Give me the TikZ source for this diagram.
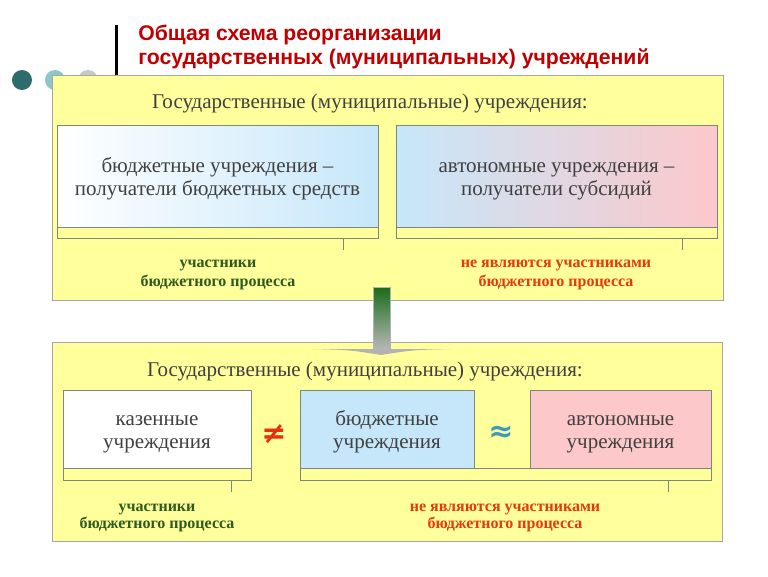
\documentclass[tikz,border=0pt]{standalone}
\usepackage{fontspec}
\setmainfont{Liberation Serif}
\newfontfamily\titlefont{Liberation Sans}
\newfontfamily\signfont{DejaVu Sans}
\usepackage{xcolor}
\usetikzlibrary{shadings}

\definecolor{panelyellow}{HTML}{FFFF9C}
\definecolor{titlered}{HTML}{C00000}
\definecolor{boxblue}{HTML}{C6E7FA}
\definecolor{boxpink}{HTML}{FCC8CA}
\definecolor{edgegray}{HTML}{7C887C}
\definecolor{procgreen}{HTML}{2F5A1E}
\definecolor{procred}{HTML}{E8380D}
\definecolor{dotteal}{HTML}{2E6B6B}
\definecolor{dotlight}{HTML}{8EC6C8}
\definecolor{dotgray}{HTML}{C8CACA}
\definecolor{textgray}{HTML}{404040}
\definecolor{arrowgreen}{HTML}{1A6B1A}
\definecolor{neqred}{HTML}{E83010}
\definecolor{approxblue}{HTML}{3A9AC0}

\newcommand{\topstrut}{\rule{0pt}{22pt}}

\begin{document}
\begin{tikzpicture}[x=1pt,y=-1pt,semithick]
        \tikzstyle{panel}=[
            rectangle,
            draw=gray!70,
            fill=panelyellow,
            inner sep=0pt
        ]
        \tikzstyle{orgbox}=[
            rectangle,
            draw=edgegray,
            inner sep=0pt,
            align=center,
            text=textgray,
            font=\fontsize{21}{23}\selectfont
        ]
        \tikzstyle{strip}=[
            rectangle,
            draw=edgegray,
            fill=panelyellow,
            inner sep=0pt,
            minimum height=11pt
        ]
        \tikzstyle{header}=[
            text=textgray,
            font=\fontsize{21}{24}\selectfont
        ]
        \tikzstyle{proclabel}=[
            align=center,
            font=\bfseries\fontsize{16}{19}\selectfont
        ]
        \tikzstyle{tick}=[draw=edgegray, thin]

        \useasboundingbox (0,0) rectangle (768,576);
        \fill[white] (0,0) rectangle (768,576);

        % title and decoration
        \fill[dotteal] (22,80) circle (10);
        \fill[dotlight] (55,80) circle (10);
        \fill[dotgray] (88,80) circle (10);
        \draw[line width=3pt] (116,25) -- (116,75);
        \node[anchor=base west, inner sep=0pt, text=titlered,
              font=\titlefont\bfseries\fontsize{21.2}{24}\selectfont] (title1) at (138,40)
              {Общая схема реорганизации};
        \node[anchor=base west, inner sep=0pt, text=titlered,
              font=\titlefont\bfseries\fontsize{21.2}{24}\selectfont] (title2) at (138,64)
              {государственных (муниципальных) учреждений};

        % upper panel
        \node[panel, minimum width=671pt, minimum height=225pt] (P1) at (387.5,187.5){};
        \node[header] (H1) at (370,103){Государственные (муниципальные) учреждения:};
        \node[orgbox, left color=white, right color=boxblue,
              minimum width=321pt, minimum height=102pt] (B1) at (217.5,176)
              {\topstrut бюджетные учреждения –\\получатели бюджетных средств\strut};
        \node[orgbox, left color=boxblue, right color=boxpink,
              minimum width=321pt, minimum height=102pt] (B2) at (556.5,176)
              {\topstrut автономные учреждения –\\получатели субсидий\strut};
        \node[strip, minimum width=321pt] (S1) at (217.5,232.5){};
        \node[strip, minimum width=321pt] (S2) at (556.5,232.5){};
        \coordinate (T1) at (343,250);
        \coordinate (T2) at (682,250);
        \draw[tick] (T1 |- S1.south) -- (T1);
        \draw[tick] (T2 |- S2.south) -- (T2);
        \node[proclabel, text=procgreen] (L1) at (218,275){участники\\бюджетного процесса};
        \node[proclabel, text=procred] (L2) at (556,275){не являются участниками\\бюджетного процесса};

        % lower panel
        \node[panel, minimum width=670pt, minimum height=199pt] (P2) at (387,441.5){};
        \node[header] (H2) at (365,371){Государственные (муниципальные) учреждения:};
        \node[orgbox, fill=white, minimum width=188pt, minimum height=78pt] (C1) at (157,429)
              {\topstrut казенные\\учреждения\strut};
        \node[orgbox, fill=boxblue, minimum width=174pt, minimum height=78pt] (C2) at (387,429)
              {\topstrut бюджетные\\учреждения\strut};
        \node[orgbox, fill=boxpink, minimum width=181pt, minimum height=78pt] (C3) at (620.5,429)
              {\topstrut автономные\\учреждения\strut};
        \node[strip, minimum width=188pt, minimum height=12pt] (S3) at (157,474){};
        \node[strip, minimum width=411pt, minimum height=12pt] (S4) at (505.5,474){};
        \coordinate (T3) at (231,492);
        \coordinate (T4) at (668,492);
        \draw[tick] (T3 |- S3.south) -- (T3);
        \draw[tick] (T4 |- S4.south) -- (T4);
        \node[text=neqred, font=\signfont\bfseries\fontsize{30}{30}\selectfont] (NE) at (274,434){≠};
        \node[text=approxblue, font=\signfont\bfseries\fontsize{30}{30}\selectfont] (AP) at (501,434){≈};
        \node[proclabel, text=procgreen, font=\bfseries\fontsize{16}{17}\selectfont] (L3) at (157,518)
              {участники\\бюджетного процесса};
        \node[proclabel, text=procred, font=\bfseries\fontsize{16}{17}\selectfont] (L4) at (505,518)
              {не являются участниками\\бюджетного процесса};

        % transition arrow
        \shade[top color=arrowgreen, bottom color=gray!55, draw=gray!60, thin]
              (373,287) rectangle (390,350);
        \fill[gray!60] (313,349) .. controls (350,350) .. (381,355)
              .. controls (412,350) .. (450,349) -- cycle;
    \end{tikzpicture}
\end{document}
